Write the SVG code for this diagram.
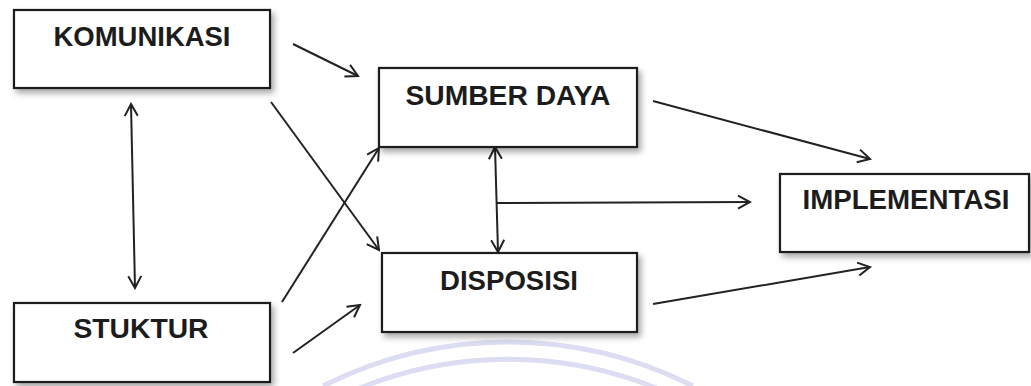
<svg xmlns="http://www.w3.org/2000/svg" width="1031" height="386" viewBox="0 0 1031 386">
  <defs>
    <style>
      .box { fill: #ffffff; stroke: #1e1e1e; stroke-width: 2.2; filter: url(#shadow); }
      .lbl { font-family: "Liberation Sans", Arial, sans-serif; font-weight: bold; font-size: 27px; fill: #1c1c1c; }
      .con { fill: none; stroke: #222222; stroke-width: 2; marker-end: url(#arrow); }
      .dbl { marker-start: url(#arrow); }
      .wm { fill: none; stroke: #dcdcf2; stroke-width: 5; }
    </style>
    <filter id="shadow" x="-10%" y="-20%" width="125%" height="150%">
      <feDropShadow dx="3" dy="4" stdDeviation="3" flood-color="#000000" flood-opacity="0.35"/>
    </filter>
    <marker id="arrow" markerUnits="userSpaceOnUse" viewBox="-14 -8 16 16" refX="0" refY="0" markerWidth="16" markerHeight="16" orient="auto-start-reverse">
      <path d="M -12 -6.5 L 0 0 L -12 6.5" fill="none" stroke="#222222" stroke-width="2"/>
    </marker>
  </defs>
  <rect width="1031" height="386" fill="#ffffff"/>
  <g id="watermark">
    <path class="wm" d="M 323 386 A 411 411 0 0 1 693 386"/>
    <path class="wm" d="M 355 390 A 396 396 0 0 1 661 390" stroke-width="3"/>
  </g>
  <g id="connectors">
    <line class="con" x1="293" y1="44" x2="358" y2="76"/>
    <line class="con" x1="271" y1="102" x2="379" y2="250"/>
    <line class="con" x1="282" y1="302" x2="379" y2="148"/>
    <line class="con" x1="293" y1="353" x2="360" y2="305"/>
    <line class="con dbl" x1="131" y1="104" x2="135" y2="288"/>
    <line class="con dbl" x1="495" y1="147" x2="498" y2="252"/>
    <line class="con" x1="497" y1="203" x2="750" y2="202"/>
    <line class="con" x1="653" y1="101" x2="870" y2="159"/>
    <line class="con" x1="653" y1="304" x2="870" y2="267"/>
  </g>
  <g id="node-komunikasi">
    <rect class="box" x="14" y="10" width="256" height="78"/>
    <text class="lbl" x="142" y="46" text-anchor="middle" textLength="177" lengthAdjust="spacingAndGlyphs">KOMUNIKASI</text>
  </g>
  <g id="node-stuktur">
    <rect class="box" x="14" y="303" width="256" height="79"/>
    <text class="lbl" x="141" y="338" text-anchor="middle" textLength="135" lengthAdjust="spacingAndGlyphs">STUKTUR</text>
  </g>
  <g id="node-sumber-daya">
    <rect class="box" x="379" y="68" width="258" height="79"/>
    <text class="lbl" x="508" y="105" text-anchor="middle" textLength="205" lengthAdjust="spacingAndGlyphs">SUMBER DAYA</text>
  </g>
  <g id="node-disposisi">
    <rect class="box" x="382" y="253" width="255" height="79"/>
    <text class="lbl" x="509" y="290" text-anchor="middle" textLength="138" lengthAdjust="spacingAndGlyphs">DISPOSISI</text>
  </g>
  <g id="node-implementasi">
    <rect class="box" x="780" y="174" width="249" height="78"/>
    <text class="lbl" x="906" y="209" text-anchor="middle" textLength="207" lengthAdjust="spacingAndGlyphs">IMPLEMENTASI</text>
  </g>
</svg>
